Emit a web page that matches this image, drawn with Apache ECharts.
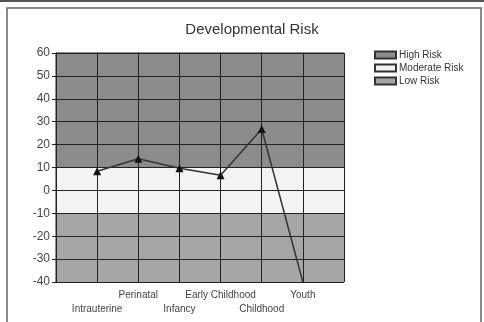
<!DOCTYPE html>
<html><head><meta charset="utf-8">
<script src="https://cdn.jsdelivr.net/npm/echarts@6/dist/echarts.min.js"></script>
<style>html,body{margin:0;padding:0;background:#fff}#c{width:484px;height:322px}</style>
</head><body><div id="c"></div>
<script>
const categories = ['', 'Intrauterine', 'Perinatal', 'Infancy', 'Early Childhood', 'Childhood', 'Youth', ''];
const riskValues = ['-', 8.4, 13.8, 9.7, 6.6, 26.8, -40, '-'];
const yTicks = [-40, -30, -20, -10, 0, 10, 20, 30, 40, 50, 60];
const bandNames = ['High Risk', 'Moderate Risk', 'Low Risk'];
const bandFrom = [10, -10, -40];
const bandTo = [60, 10, -10];
const bandColors = ['#8c8c8c', '#f3f3f3', '#a6a6a6'];

const chart = echarts.init(document.getElementById('c'));
const font = 'Liberation Sans, Arial, sans-serif';
const bandSeries = bandNames.map((n, i) => ({
  name: n, type: 'line', data: [], color: bandColors[i], z: 1,
  itemStyle: {color: bandColors[i], borderColor: '#333', borderWidth: 0.8},
  markArea: {silent: true, itemStyle: {color: bandColors[i]},
    data: [[{yAxis: bandFrom[i]}, {yAxis: bandTo[i]}]]}
}));
chart.setOption({
  animation: false,
  title: {text: 'Developmental Risk', left: 247, textAlign: 'center', top: 17,
    textStyle: {fontFamily: font, fontSize: 15, fontWeight: 'normal', color: '#333'}},
  legend: {left: 369, top: 45, orient: 'vertical', icon: 'rect', itemWidth: 21, itemHeight: 7, itemGap: 3,
    data: bandNames, textStyle: {fontFamily: font, fontSize: 10, color: '#333', padding: [0,0,0,-2]}},
  graphic: [
    {type: 'rect', shape: {x: 0, y: 0, width: 484, height: 2}, style: {fill: '#555'}},
    {type: 'rect', shape: {x: 7, y: 8, width: 474, height: 320}, style: {fill: 'none', stroke: '#666', lineWidth: 1.5}}
  ],
  grid: {left: 56, right: 140, top: 53, bottom: 40, show: true, borderColor: '#222', borderWidth: 1, z: 0},
  xAxis: {type: 'category', data: categories, boundaryGap: false, z: 3,
    axisLine: {lineStyle: {color: '#222'}},
    axisTick: {show: true, length: 4, interval: 0, lineStyle: {color: '#222'}},
    splitLine: {show: true, interval: 0, lineStyle: {color: '#222', width: 1}},
    axisLabel: {interval: 0, margin: 6, fontFamily: font, fontSize: 10, color: '#444', lineHeight: 14,
      formatter: (v, i) => (i % 2 === 1 ? '\n' + v : v)}},
  yAxis: {type: 'value', min: yTicks[0], max: yTicks[yTicks.length - 1], interval: 10, z: 3,
    axisLine: {show: true, lineStyle: {color: '#222'}},
    axisTick: {show: true, length: 4, lineStyle: {color: '#222'}},
    splitLine: {show: true, lineStyle: {color: '#222', width: 1}},
    axisLabel: {margin: 6, fontFamily: font, fontSize: 12, color: '#444'}},
  series: bandSeries.concat([{
    name: 'Risk', type: 'line', z: 5,
    data: riskValues.map((v, i) => v === yTicks[0] ? {value: v, symbol: 'none'} : v),
    symbol: 'triangle', symbolSize: 8,
    lineStyle: {color: '#333', width: 1.5}, itemStyle: {color: '#111'}
  }])
});
</script></body></html>
